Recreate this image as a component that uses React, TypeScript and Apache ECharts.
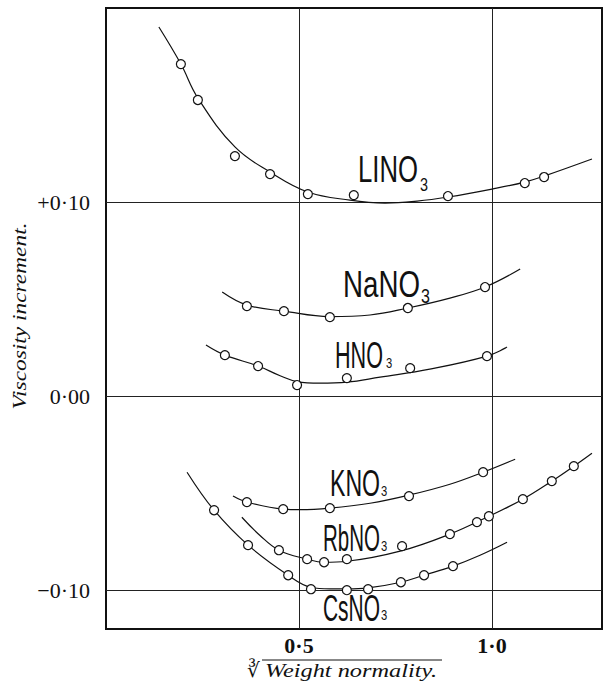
import React, { useEffect, useRef } from 'react';
import * as echarts from 'echarts';

// ---------- data ----------
const compounds = ['LiNO3', 'NaNO3', 'HNO3', 'KNO3', 'RbNO3', 'CsNO3'];
const labelMain = ['LINO', 'NaNO', 'HNO', 'KNO', 'RbNO', 'CsNO'];
const labelSub = ['3', '3', '3', '3', '3', '3'];

const xTickValues = [0.5, 1.0];
const xTickTexts = ['0·5', '1·0'];
const yTickValues = [-0.1, 0, 0.1];
const yTickTexts = ['−0·10', '0·00', '+0·10'];

const xTitle = 'Weight normality.';
const xTitleRoot = '∛';
const yTitle = 'Viscosity increment.';

// observed points
const liPoints = [[0.194, 0.1711], [0.238, 0.1526], [0.334, 0.1237], [0.425, 0.1144], [0.523, 0.1041], [0.642, 0.1036], [0.886, 0.1031], [1.085, 0.1098], [1.135, 0.1129]];
const naPoints = [[0.365, 0.0464], [0.461, 0.0438], [0.580, 0.0407], [0.782, 0.0454], [0.982, 0.0562]];
const hPoints = [[0.308, 0.0211], [0.394, 0.0155], [0.495, 0.0057], [0.624, 0.0093], [0.788, 0.0144], [0.987, 0.0206]];
const kPoints = [[0.365, -0.0546], [0.459, -0.0582], [0.580, -0.0577], [0.785, -0.0515], [0.977, -0.0392]];
const rbPoints = [[0.448, -0.0794], [0.521, -0.0840], [0.565, -0.0856], [0.624, -0.0840], [0.767, -0.0773], [0.891, -0.0711], [0.961, -0.0649], [0.992, -0.0619], [1.080, -0.0531], [1.155, -0.0438], [1.212, -0.0361]];
const csPoints = [[0.280, -0.0588], [0.368, -0.0768], [0.472, -0.0923], [0.531, -0.0995], [0.624, -0.1000], [0.679, -0.0995], [0.764, -0.0959], [0.824, -0.0923], [0.899, -0.0876]];

// fitted curves
const liCurve = [[0.137, 0.1902], [0.194, 0.1711], [0.238, 0.1536], [0.334, 0.1284], [0.425, 0.1155], [0.523, 0.1052], [0.632, 0.1010], [0.723, 0.0995], [0.806, 0.1005], [0.886, 0.1026], [1.0, 0.1067], [1.085, 0.1103], [1.135, 0.1134], [1.259, 0.1222]];
const naCurve = [[0.301, 0.0536], [0.365, 0.0469], [0.461, 0.0438], [0.580, 0.0410], [0.684, 0.0418], [0.782, 0.0454], [0.891, 0.0505], [0.982, 0.0562], [1.073, 0.0655]];
const hCurve = [[0.259, 0.0263], [0.308, 0.0211], [0.394, 0.0155], [0.451, 0.0105], [0.495, 0.0075], [0.554, 0.0067], [0.624, 0.0072], [0.710, 0.0098], [0.839, 0.0139], [0.987, 0.0206], [1.039, 0.0253]];
const kCurve = [[0.329, -0.0515], [0.365, -0.0546], [0.459, -0.0582], [0.503, -0.0585], [0.580, -0.0577], [0.684, -0.0552], [0.785, -0.0510], [0.891, -0.0454], [0.977, -0.0392], [1.060, -0.0325]];
const rbCurve = [[0.352, -0.0624], [0.399, -0.0718], [0.448, -0.0794], [0.521, -0.0840], [0.565, -0.0856], [0.624, -0.0851], [0.762, -0.0799], [0.891, -0.0711], [0.992, -0.0619], [1.080, -0.0531], [1.155, -0.0438], [1.212, -0.0361], [1.259, -0.0294]];
const csCurve = [[0.210, -0.0392], [0.280, -0.0588], [0.368, -0.0768], [0.472, -0.0923], [0.531, -0.0985], [0.580, -0.0993], [0.624, -0.0993], [0.679, -0.0988], [0.764, -0.0959], [0.824, -0.0923], [0.899, -0.0876], [0.969, -0.0820], [1.039, -0.0753]];

const allPoints = [liPoints, naPoints, hPoints, kPoints, rbPoints, csPoints];
const allCurves = [liCurve, naCurve, hCurve, kCurve, rbCurve, csCurve];

// ---------- layout (pixels) ----------
const labelLayout = [
  { x: 358, cy: 169, w: 60, sx: 420, scy: 184, ss: 18 },
  { x: 343, cy: 284, w: 77, sx: 421, scy: 296, ss: 20 },
  { x: 335, cy: 355, w: 48, sx: 386, scy: 364, ss: 14 },
  { x: 330, cy: 483, w: 50, sx: 381, scy: 492, ss: 14 },
  { x: 323, cy: 538, w: 57, sx: 381, scy: 547, ss: 14 },
  { x: 323, cy: 608, w: 57, sx: 381, scy: 616, ss: 14 },
];
const LABEL_FAMILY = 'Liberation Sans';
const SERIF = 'Liberation Serif';

function measure(text: string, size: number, family: string, style = 'normal', weight = 'normal'): number {
  const c = document.createElement('canvas');
  const ctx = c.getContext('2d');
  if (!ctx) return 0;
  ctx.font = `${style} ${weight} ${size}px ${family}`;
  return ctx.measureText(text).width;
}

function tickText(v: number, vals: number[], texts: string[]): string {
  for (let i = 0; i < vals.length; i++) {
    if (Math.abs(v - vals[i]) < 1e-6) return texts[i];
  }
  return '';
}

export default function App() {
  const ref = useRef<HTMLDivElement>(null);

  useEffect(() => {
    if (!ref.current) return;
    const chart = echarts.init(ref.current, null, { renderer: 'svg' });

    const series: any[] = [];
    allCurves.forEach((curve, i) => {
      series.push({
        name: compounds[i] + ' curve',
        type: 'line',
        data: curve,
        smooth: 0.4,
        symbol: 'none',
        showSymbol: false,
        lineStyle: { color: '#111', width: 1.2 },
        z: 3,
        silent: true,
      });
    });
    allPoints.forEach((pts, i) => {
      series.push({
        name: compounds[i],
        type: 'scatter',
        data: pts,
        symbol: 'circle',
        symbolSize: 9,
        itemStyle: { color: '#fff', borderColor: '#111', borderWidth: 1.2, opacity: 1 },
        z: 4,
        silent: true,
      });
    });
    // grid lines
    series[0].markLine = {
      silent: true,
      symbol: ['none', 'none'],
      label: { show: false },
      lineStyle: { color: '#222', width: 1, type: 'solid' },
      data: [
        ...xTickValues.map((v) => ({ xAxis: v })),
        ...yTickValues.map((v) => ({ yAxis: v })),
      ],
      z: 1,
    };

    const graphics: any[] = [];
    labelLayout.forEach((L, i) => {
      const m = measure(labelMain[i], 37, LABEL_FAMILY) || L.w;
      graphics.push({
        type: 'text',
        x: L.x,
        y: L.cy,
        scaleX: L.w / m,
        silent: true,
        style: {
          text: labelMain[i],
          fontSize: 37,
          fontFamily: LABEL_FAMILY,
          fill: '#111',
          align: 'left',
          verticalAlign: 'middle',
          textAlign: 'left',
          textVerticalAlign: 'middle',
        },
        z: 10,
      });
      graphics.push({
        type: 'text',
        x: L.sx,
        y: L.scy,
        scaleX: 0.8,
        silent: true,
        style: {
          text: labelSub[i],
          fontSize: L.ss,
          fontFamily: LABEL_FAMILY,
          fill: '#111',
          align: 'left',
          verticalAlign: 'middle',
          textAlign: 'left',
          textVerticalAlign: 'middle',
        },
        z: 10,
      });
    });

    // y axis title (rotated)
    const yw = measure(yTitle, 19, SERIF, 'italic') || 187;
    graphics.push({
      type: 'text',
      x: 20,
      y: 316,
      rotation: Math.PI / 2,
      scaleX: 187 / yw,
      silent: true,
      style: {
        text: yTitle,
        fontSize: 19,
        fontFamily: SERIF,
        fontStyle: 'italic',
        fill: '#111',
        align: 'center',
        verticalAlign: 'middle',
        textAlign: 'center',
        textVerticalAlign: 'middle',
      },
    });

    // x axis title with cube-root sign and vinculum
    const xw = measure(xTitle, 19, SERIF, 'italic') || 172;
    graphics.push({
      type: 'text',
      x: 265,
      y: 671,
      scaleX: 172 / xw,
      silent: true,
      style: {
        text: xTitle,
        fontSize: 19,
        fontFamily: SERIF,
        fontStyle: 'italic',
        fill: '#111',
        align: 'left',
        verticalAlign: 'middle',
        textAlign: 'left',
        textVerticalAlign: 'middle',
      },
    });
    graphics.push({
      type: 'text',
      x: 247,
      y: 670,
      silent: true,
      style: {
        text: xTitleRoot,
        fontSize: 20,
        fontFamily: 'DejaVu Serif',
        fill: '#111',
        align: 'left',
        verticalAlign: 'middle',
        textAlign: 'left',
        textVerticalAlign: 'middle',
      },
    });
    graphics.push({
      type: 'line',
      silent: true,
      shape: { x1: 262, y1: 660, x2: 442, y2: 660 },
      style: { stroke: '#111', lineWidth: 1 },
    });

    const option: any = {
      animation: false,
      backgroundColor: '#fff',
      grid: {
        left: 106,
        top: 8,
        width: 496,
        height: 621,
        show: true,
        borderColor: '#111',
        borderWidth: 2,
        backgroundColor: 'transparent',
        containLabel: false,
      },
      xAxis: {
        type: 'value',
        min: 0,
        max: 1.285,
        axisLine: { show: false },
        axisTick: { show: false },
        splitLine: { show: false },
        axisLabel: {
          customValues: xTickValues,
          formatter: (v: number) => tickText(v, xTickValues, xTickTexts),
          fontFamily: SERIF,
          fontWeight: 'bold',
          fontSize: 22,
          color: '#111',
          margin: 5,
        },
      },
      yAxis: {
        type: 'value',
        min: -0.12,
        max: 0.2,
        axisLine: { show: false },
        axisTick: { show: false },
        splitLine: { show: false },
        axisLabel: {
          customValues: yTickValues,
          formatter: (v: number) => tickText(v, yTickValues, yTickTexts),
          fontFamily: SERIF,
          fontSize: 22,
          color: '#111',
          margin: 16,
        },
      },
      series,
      graphic: graphics,
    };

    chart.setOption(option);
    return () => chart.dispose();
  }, []);

  return (
    <div
      ref={ref}
      style={{ position: 'absolute', left: 0, top: 0, width: 604, height: 682 }}
    />
  );
}
